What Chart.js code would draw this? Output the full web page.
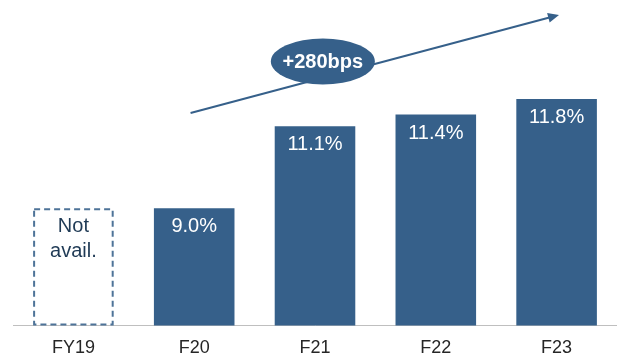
<!DOCTYPE html>
<html>
<head>
<meta charset="utf-8">
<script src="https://cdn.jsdelivr.net/npm/chart.js@4/dist/chart.umd.min.js"></script>
<style>
  html, body { margin: 0; padding: 0; background: #ffffff; }
  #wrap { width: 617px; height: 361px; position: relative; }
</style>
</head>
<body>
<div id="wrap"><canvas id="c" width="617" height="361"></canvas></div>
<script>
// ---- data ----
const categories = ['FY19', 'F20', 'F21', 'F22', 'F23'];
const marginValues = [null, 9.0, 11.1, 11.4, 11.8];      // %
const placeholderValues = [9.0, null, null, null, null]; // dashed "Not avail." box
const placeholderText = ['Not', 'avail.'];
const changeLabel = '+280bps';

const BLUE = '#36608A';
const FONT = "'Liberation Sans', Arial, sans-serif";

const overlay = {
  id: 'overlay',
  afterDatasetsDraw(chart) {
    const ctx = chart.ctx;
    const xs = chart.scales.x, ys = chart.scales.y;
    const bottom = chart.chartArea.bottom;

    // dashed placeholder box
    const pm = chart.getDatasetMeta(1);
    pm.data.forEach((el, i) => {
      if (placeholderValues[i] == null) return;
      const p = el.getProps(['x', 'y', 'width'], true);
      ctx.save();
      ctx.strokeStyle = '#4E7398';
      ctx.lineWidth = 2;
      ctx.setLineDash([6, 4]);
      ctx.strokeRect(p.x - p.width / 2 + 1, p.y + 1, p.width - 2, bottom - p.y - 2);
      ctx.setLineDash([]);
      ctx.fillStyle = '#1F3A55';
      ctx.font = '20px ' + FONT;
      ctx.textAlign = 'center';
      ctx.textBaseline = 'middle';
      placeholderText.forEach((t, k) => ctx.fillText(t, p.x, p.y + 18 + k * 25));
      ctx.restore();
    });

    // value labels
    const m = chart.getDatasetMeta(0);
    m.data.forEach((el, i) => {
      if (marginValues[i] == null) return;
      const p = el.getProps(['x', 'y'], true);
      ctx.save();
      ctx.fillStyle = '#ffffff';
      ctx.font = '20px ' + FONT;
      ctx.textAlign = 'center';
      ctx.textBaseline = 'middle';
      ctx.fillText(marginValues[i].toFixed(1) + '%', p.x, p.y + 18.5);
      ctx.restore();
    });

    // trend arrow
    const x0 = xs.getPixelForValue(0.97), y0 = ys.getPixelForValue(11.44);
    const x1 = xs.getPixelForValue(4.02), y1 = ys.getPixelForValue(13.95);
    ctx.save();
    ctx.strokeStyle = BLUE;
    ctx.fillStyle = BLUE;
    ctx.lineWidth = 2;
    const ang = Math.atan2(y1 - y0, x1 - x0);
    ctx.beginPath();
    ctx.moveTo(x0, y0);
    ctx.lineTo(x1 - 6 * Math.cos(ang), y1 - 6 * Math.sin(ang));
    ctx.stroke();
    ctx.beginPath();
    ctx.moveTo(x1, y1);
    ctx.lineTo(x1 - 11 * Math.cos(ang) + 5 * Math.sin(ang), y1 - 11 * Math.sin(ang) - 5 * Math.cos(ang));
    ctx.lineTo(x1 - 11 * Math.cos(ang) - 5 * Math.sin(ang), y1 - 11 * Math.sin(ang) + 5 * Math.cos(ang));
    ctx.closePath();
    ctx.fill();

    // ellipse badge
    const ex = xs.getPixelForValue(2.065), ey = ys.getPixelForValue(12.76);
    ctx.beginPath();
    ctx.ellipse(ex, ey, 52, 23, 0, 0, Math.PI * 2);
    ctx.fill();
    ctx.fillStyle = '#ffffff';
    ctx.font = 'bold 20px ' + FONT;
    ctx.textAlign = 'center';
    ctx.textBaseline = 'middle';
    ctx.fillText(changeLabel, ex, ey + 1);
    ctx.restore();
  }
};

new Chart(document.getElementById('c'), {
  type: 'bar',
  data: {
    labels: categories,
    datasets: [
      {
        data: marginValues,
        backgroundColor: BLUE,
        borderWidth: 0,
        grouped: false,
        categoryPercentage: 1,
        barPercentage: 0.667
      },
      {
        data: placeholderValues,
        backgroundColor: 'rgba(0,0,0,0)',
        borderWidth: 0,
        grouped: false,
        categoryPercentage: 1,
        barPercentage: 0.667
      }
    ]
  },
  options: {
    responsive: false,
    animation: false,
    devicePixelRatio: 1,
    layout: { padding: { top: 13, left: 13, right: 0, bottom: -10 } },
    plugins: { legend: { display: false }, tooltip: { enabled: false } },
    scales: {
      x: {
        grid: { display: false, drawTicks: false },
        border: { display: true, color: '#BFBFBF', width: 1 },
        ticks: { color: '#262626', font: { family: FONT, size: 18 }, padding: 12 }
      },
      y: {
        display: false,
        min: 6,
        max: 14
      }
    }
  },
  plugins: [overlay]
});
</script>
</body>
</html>
